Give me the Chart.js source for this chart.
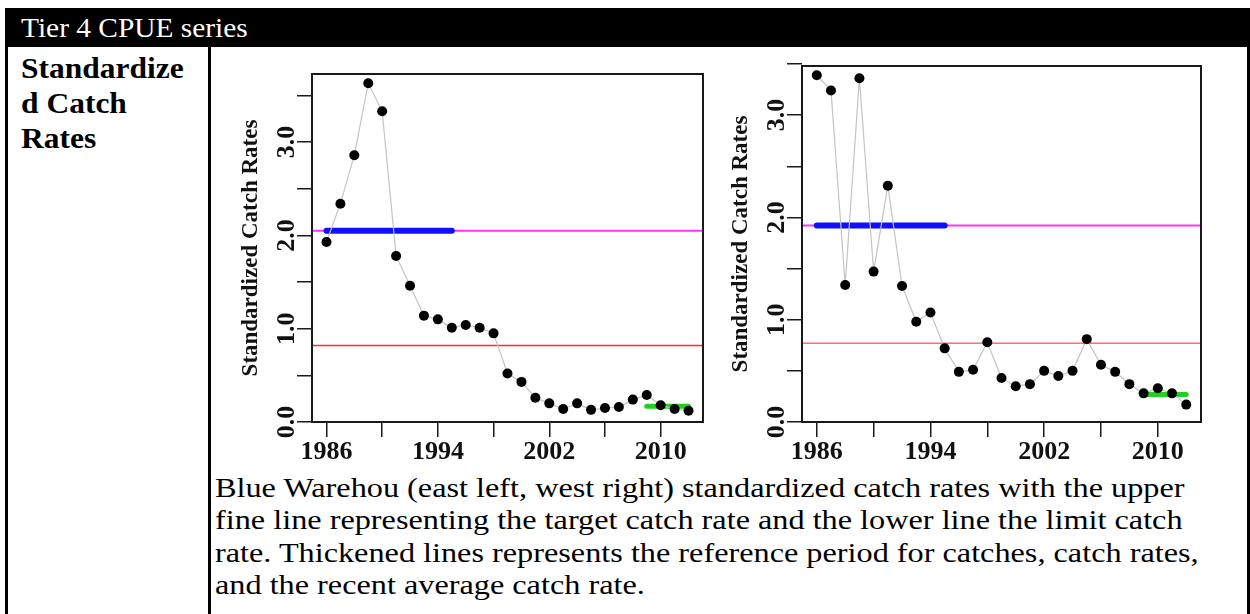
<!DOCTYPE html>
<html>
<head>
<meta charset="utf-8">
<script src="https://cdn.jsdelivr.net/npm/chart.js@4"></script>
<style>
  body { margin: 0; background: #fff; width: 1250px; height: 614px; overflow: hidden; position: relative; font-family: 'Liberation Serif', 'Times New Roman', serif; }
  .abs { position: absolute; }
  #hdr { left: 5px; top: 8px; width: 1245px; height: 39px; background: #000; }
  #hdrText { left: 16px; top: 3.5px; color: #fff; font-size: 28px; line-height: 32px; white-space: nowrap; transform: scaleX(1.05); transform-origin: 0 0; }
  .vline { top: 47px; width: 3px; height: 567px; background: #000; }
  #side { left: 21px; top: 50px; font-weight: bold; font-size: 30px; line-height: 35px; white-space: nowrap; transform: scaleX(1.05); transform-origin: 0 0; }
  #caption { left: 215px; top: 472px; font-size: 28px; line-height: 32.3px; white-space: nowrap; transform: scaleX(1.152); transform-origin: 0 0; }
</style>
</head>
<body>
<div id="hdr" class="abs"><div id="hdrText" class="abs">Tier 4 CPUE series</div></div>
<div class="abs vline" style="left:5px"></div>
<div class="abs vline" style="left:208px"></div>
<div class="abs vline" style="left:1247px"></div>
<div id="side" class="abs">Standardize<br>d Catch<br>Rates</div>
<div class="abs" style="left:228px;top:48px;width:490px;height:422px"><canvas id="east" width="490" height="422"></canvas></div>
<div class="abs" style="left:718px;top:48px;width:500px;height:422px"><canvas id="west" width="500" height="422"></canvas></div>
<div id="caption" class="abs">Blue Warehou (east left, west right) standardized catch rates with the upper<br>fine line representing the target catch rate and the lower line the limit catch<br>rate. Thickened lines represents the reference period for catches, catch rates,<br>and the recent average catch rate.</div>
<script>
// years and catch rate series (east = left panel, west = right panel)
const years = [1986, 1987, 1988, 1989, 1990, 1991, 1992, 1993, 1994, 1995, 1996, 1997, 1998, 1999,
               2000, 2001, 2002, 2003, 2004, 2005, 2006, 2007, 2008, 2009, 2010, 2011, 2012]
const eastRate = [1.93, 2.34, 2.86, 3.63, 3.33, 1.78, 1.46, 1.14, 1.10, 1.01, 1.04, 1.01, 0.95, 0.52,
                  0.43, 0.26, 0.20, 0.14, 0.20, 0.13, 0.15, 0.16, 0.24, 0.29, 0.18, 0.14, 0.12]
const westRate = [3.39, 3.24, 1.34, 3.36, 1.47, 2.31, 1.33, 0.98, 1.07, 0.72, 0.49, 0.51, 0.78, 0.43,
                  0.35, 0.37, 0.50, 0.45, 0.50, 0.81, 0.56, 0.49, 0.37, 0.28, 0.33, 0.28, 0.17]

// reference levels
const eastLevels = [2.05, 0.82, 0.17]   // target, limit, recent average
const westLevels = [1.92, 0.77, 0.27]
const refPeriod = [1986, 1995]
const recentPeriod = [2009, 2012]

// axes
const xRange = [1984.96, 2013.04]
const eastYRange = [0, 3.73]
const westYRange = [0, 3.48]
const xTickYears = [1986, 1990, 1994, 1998, 2002, 2006, 2010]
const xLabelYears = [1986, 1994, 2002, 2010]
const yTickValues = [0, 0.5, 1, 1.5, 2, 2.5, 3, 3.5]
const yLabelValues = [0, 1, 2, 3]

const serif = "'Liberation Serif', 'Times New Roman', serif"

// R style box round the plot area + vertical y tick labels
const rStyle = {
    id: 'rStyle',
    afterDatasetsDraw(chart){
        const a = chart.chartArea
        const ctx = chart.ctx
        ctx.save()
        ctx.strokeStyle = '#1a1a1a'
        ctx.lineWidth = 2
        ctx.strokeRect(a.left, a.top, a.right - a.left, a.bottom - a.top)
        ctx.restore()
    },
    afterDraw(chart){
        const ctx = chart.ctx
        const ys = chart.scales.y
        ctx.save()
        ctx.fillStyle = '#111'
        ctx.font = 'bold 26px ' + serif
        ctx.textAlign = 'center'
        ctx.textBaseline = 'middle'
        for(let i=0; i<yLabelValues.length; i++){
            const py = ys.getPixelForValue(yLabelValues[i])
            ctx.save()
            ctx.translate(chart.chartArea.left - 25, py)
            ctx.rotate(-Math.PI / 2)
            ctx.fillText(yLabelValues[i].toFixed(1), 0, 0)
            ctx.restore()
        }
        ctx.restore()
    }
}

function hline(x0, x1, v, color, width, cap){
    return {
        data: [{x: x0, y: v}, {x: x1, y: v}],
        borderColor: color,
        borderWidth: width,
        borderCapStyle: cap,
        pointRadius: 0
    }
}

function makeChart(id, rates, levels, yRange, padTop, padRight, limitColor){
    const pts = []
    for(let i=0; i<years.length; i++){
        pts.push({x: years[i], y: rates[i]})
    }
    return new Chart(document.getElementById(id).getContext('2d'), {
        type: 'line',
        data: {
            datasets: [
                {
                    data: pts,
                    borderColor: '#c4c4c4',
                    borderWidth: 1.2,
                    pointRadius: 5,
                    pointBackgroundColor: '#000',
                    pointBorderWidth: 0,
                    tension: 0
                },
                hline(recentPeriod[0], recentPeriod[1], levels[2], '#1fd21f', 5, 'round'),
                hline(refPeriod[0], refPeriod[1], levels[0], '#1010ff', 6, 'round'),
                hline(xRange[0], xRange[1], levels[1], limitColor, 1.5, 'butt'),
                hline(xRange[0], xRange[1], levels[0], '#ff33ff', 2, 'butt')
            ]
        },
        options: {
            responsive: false,
            animation: false,
            layout: { padding: { left: 0, right: padRight, top: padTop, bottom: 0 } },
            plugins: { legend: { display: false }, tooltip: { enabled: false } },
            scales: {
                x: {
                    type: 'linear',
                    min: xRange[0],
                    max: xRange[1],
                    afterBuildTicks: s => { s.ticks = xTickYears.map(v => ({value: v})) },
                    afterFit: s => { s.height = 48 },
                    border: { display: false },
                    grid: { drawOnChartArea: false, drawTicks: true, tickLength: 15, color: '#1a1a1a', lineWidth: 1.5 },
                    ticks: {
                        padding: 0,
                        color: '#111',
                        maxRotation: 0,
                        autoSkip: false,
                        font: { family: serif, size: 26, weight: 'bold' },
                        callback: v => xLabelYears.includes(v) ? String(v) : ''
                    }
                },
                y: {
                    min: yRange[0],
                    max: yRange[1],
                    afterBuildTicks: s => { s.ticks = yTickValues.map(v => ({value: v})) },
                    afterFit: s => { s.width = 84 },
                    border: { display: false },
                    grid: { drawOnChartArea: false, drawTicks: true, tickLength: 15, color: '#1a1a1a', lineWidth: 1.5 },
                    ticks: { callback: () => '' },
                    title: {
                        display: true,
                        text: 'Standardized Catch Rates',
                        color: '#111',
                        padding: { top: 9, bottom: 0 },
                        font: { family: serif, size: 23, weight: 'bold' }
                    }
                }
            }
        },
        plugins: [rStyle]
    })
}

makeChart('east', eastRate, eastLevels, eastYRange, 26, 15, '#ff2a2a')
makeChart('west', westRate, westLevels, westYRange, 18, 17, '#ff6f6f')
</script>
</body>
</html>
